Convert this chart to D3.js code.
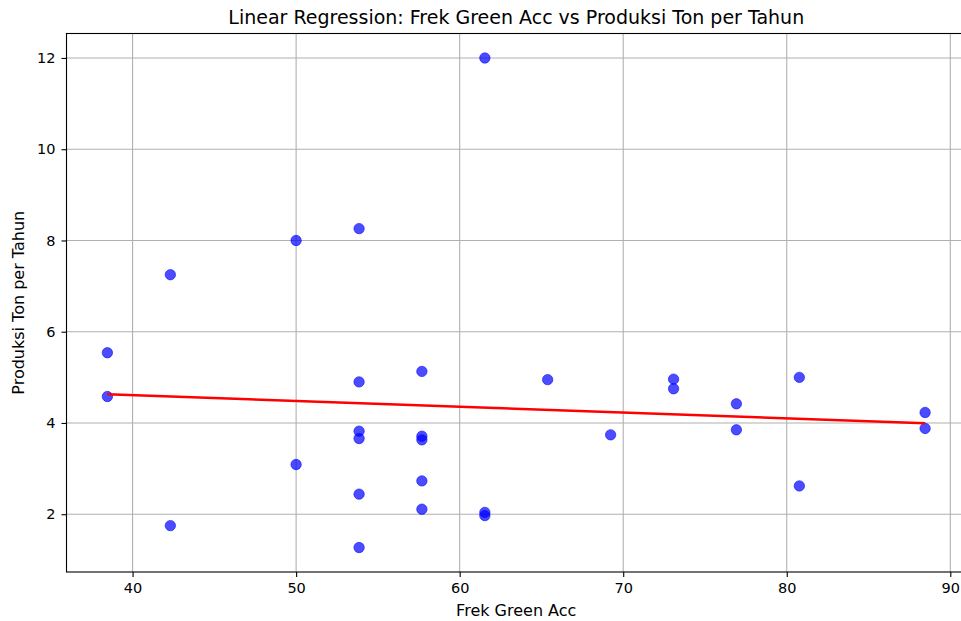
<!DOCTYPE html>
<html>
<head>
<meta charset="utf-8">
<script src="https://cdn.jsdelivr.net/npm/d3@7"></script>
<style>
  body { margin: 0; background: #fff; }
  svg { display: block; font-family: "DejaVu Sans", sans-serif; }
</style>
</head>
<body>
<svg width="961" height="621"></svg>
<script>
// Frek Green Acc (x) and Produksi Ton per Tahun (y)
var frekGreen = [38.46, 38.46, 42.31, 42.31, 50.00, 50.00,
  53.85, 53.85, 53.85, 53.85, 53.85, 53.85,
  57.69, 57.69, 57.69, 57.69, 57.69,
  61.54, 61.54, 61.54, 65.38, 69.23, 73.08, 73.08,
  76.92, 76.92, 80.77, 80.77, 88.46, 88.46];
var produksi = [5.54, 4.58, 7.25, 1.75, 8.00, 3.09,
  8.26, 4.90, 3.82, 3.66, 2.44, 1.27,
  5.13, 3.71, 3.63, 2.73, 2.11,
  12.00, 2.04, 1.97, 4.95, 3.74, 4.96, 4.75,
  4.42, 3.85, 5.00, 2.62, 4.23, 3.88];
var xTicks = [40, 50, 60, 70, 80, 90];
var yTicks = [2, 4, 6, 8, 10, 12];

function main() {
  var svg = d3.select('svg');
  var m = {left: 66.5, right: 966, top: 33.5, bottom: 572};

  var xMin = d3.min(frekGreen), xMax = d3.max(frekGreen);
  var yMin = d3.min(produksi), yMax = d3.max(produksi);
  var xPad = (xMax - xMin) * 0.05, yPad = (yMax - yMin) * 0.05;

  var x = d3.scaleLinear().domain([xMin - xPad, xMax + xPad]).range([m.left, m.right]);
  var y = d3.scaleLinear().domain([yMin - yPad, yMax + yPad]).range([m.bottom, m.top]);

  // grid
  var grid = svg.append('g');
  grid.selectAll('.gx').data(xTicks).enter().append('line')
    .attr('x1', d => x(d)).attr('x2', d => x(d))
    .attr('y1', m.top).attr('y2', m.bottom)
    .attr('stroke', '#b0b0b0').attr('stroke-width', 1.1);
  grid.selectAll('.gy').data(yTicks).enter().append('line')
    .attr('x1', m.left).attr('x2', m.right)
    .attr('y1', d => y(d)).attr('y2', d => y(d))
    .attr('stroke', '#b0b0b0').attr('stroke-width', 1.1);

  // scatter
  var pts = d3.range(frekGreen.length);
  svg.append('g').selectAll('circle').data(pts).enter().append('circle')
    .attr('cx', i => x(frekGreen[i]))
    .attr('cy', i => y(produksi[i]))
    .attr('r', 5.2)
    .attr('fill', 'blue').attr('fill-opacity', 0.7)
    .attr('stroke', 'blue').attr('stroke-opacity', 0.7).attr('stroke-width', 0.8);

  // least squares fit
  var mx = d3.mean(frekGreen), my = d3.mean(produksi);
  var sxy = d3.sum(pts, i => (frekGreen[i] - mx) * (produksi[i] - my));
  var sxx = d3.sum(pts, i => (frekGreen[i] - mx) * (frekGreen[i] - mx));
  var slope = sxy / sxx, icpt = my - slope * mx;
  var fit = [xMin, xMax].map(v => [v, icpt + slope * v]);
  svg.append('path')
    .attr('d', d3.line().x(d => x(d[0])).y(d => y(d[1]))(fit))
    .attr('fill', 'none').attr('stroke', 'red').attr('stroke-width', 2.6);

  // axes
  var xAxis = svg.append('g').attr('transform', 'translate(0,' + m.bottom + ')')
    .call(d3.axisBottom(x).tickValues(xTicks).tickSize(5).tickPadding(6).tickFormat(d3.format('d')));
  var yAxis = svg.append('g').attr('transform', 'translate(' + m.left + ',0)')
    .call(d3.axisLeft(y).tickValues(yTicks).tickSize(5).tickPadding(6).tickFormat(d3.format('d')));
  [xAxis, yAxis].forEach(function(a) {
    a.select('.domain').remove();
    a.selectAll('text').attr('font-family', '"DejaVu Sans", sans-serif').attr('font-size', 14.5).attr('fill', '#000');
    a.selectAll('line').attr('stroke', '#000').attr('stroke-width', 1.1);
  });

  svg.append('rect')
    .attr('x', m.left).attr('y', m.top)
    .attr('width', m.right - m.left).attr('height', m.bottom - m.top)
    .attr('fill', 'none').attr('stroke', '#000').attr('stroke-width', 1.1);

  // labels
  svg.append('text').attr('x', (m.left + m.right) / 2).attr('y', 24)
    .attr('text-anchor', 'middle').attr('font-size', 19)
    .text('Linear Regression: Frek Green Acc vs Produksi Ton per Tahun');
  svg.append('text').attr('x', (m.left + m.right) / 2).attr('y', 616)
    .attr('text-anchor', 'middle').attr('font-size', 16)
    .text('Frek Green Acc');
  svg.append('text')
    .attr('transform', 'translate(24,' + (m.top + m.bottom) / 2 + ') rotate(-90)')
    .attr('text-anchor', 'middle').attr('font-size', 16)
    .text('Produksi Ton per Tahun');
}
main();
</script>
</body>
</html>
